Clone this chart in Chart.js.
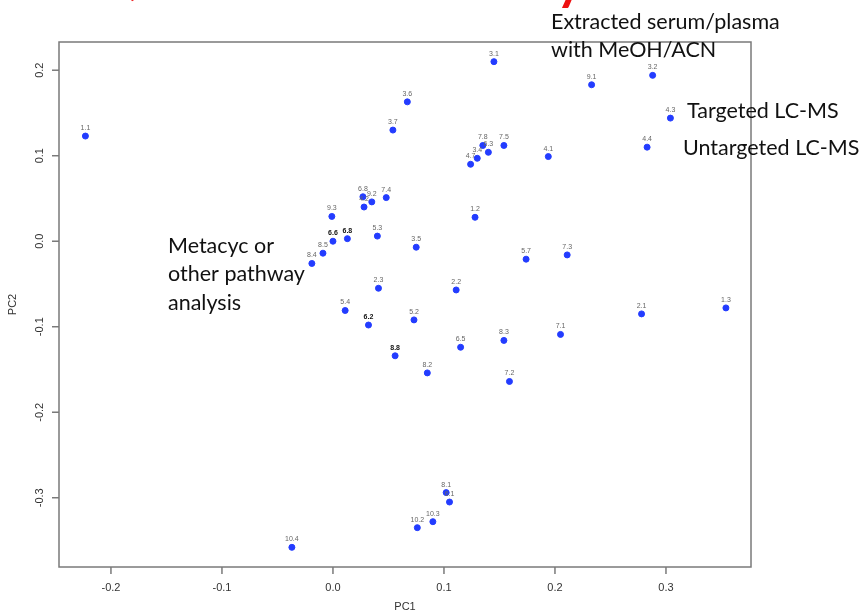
<!DOCTYPE html>
<html>
<head>
<meta charset="utf-8">
<script src="https://cdn.jsdelivr.net/npm/chart.js@4/dist/chart.umd.min.js"></script>
<style>
  html, body { margin: 0; padding: 0; background: #fff; }
  #wrap { width: 862px; height: 616px; position: relative; }
</style>
</head>
<body>
<div id="wrap"><canvas id="pcaChart"></canvas></div>
<script>
// --- data ---
const sampleLabels = ['1.1','1.2','1.3','2.1','2.2','2.3','3.1','3.2','3.4','3.5','3.6','3.7',
  '4.1','4.2','4.3','4.4','4.7','5.2','5.3','5.4','5.7','6.1','6.2','6.3','6.5','6.6','6.8','6.8',
  '7.1','7.2','7.3','7.4','7.5','7.8','8.1','8.2','8.3','8.4','8.5','8.8','9.1','9.2','9.3',
  '10.2','10.3','10.4'];
const pc1 = [-0.223, 0.128, 0.354, 0.278, 0.111, 0.041, 0.145, 0.288, 0.130, 0.075, 0.067, 0.054,
  0.194, 0.028, 0.304, 0.283, 0.124, 0.073, 0.040, 0.011, 0.174, 0.105, 0.032, 0.140, 0.115, 0.000, 0.013, 0.027,
  0.205, 0.159, 0.211, 0.048, 0.154, 0.135, 0.102, 0.085, 0.154, -0.019, -0.009, 0.056, 0.233, 0.035, -0.001,
  0.076, 0.090, -0.037];
const pc2 = [0.123, 0.028, -0.078, -0.085, -0.057, -0.055, 0.210, 0.194, 0.097, -0.007, 0.163, 0.130,
  0.099, 0.040, 0.144, 0.110, 0.090, -0.092, 0.006, -0.081, -0.021, -0.305, -0.098, 0.104, -0.124, 0.000, 0.003, 0.052,
  -0.109, -0.164, -0.016, 0.051, 0.112, 0.112, -0.294, -0.154, -0.116, -0.026, -0.014, -0.134, 0.183, 0.046, 0.029,
  -0.335, -0.328, -0.358];
// labels that are printed on top of each other in the original (look bold)
const overprinted = ['6.2','6.6','8.8'];
const overprintedIdx = [26];

const xTicks = [-0.2, -0.1, 0.0, 0.1, 0.2, 0.3];
const yTicks = [-0.3, -0.2, -0.1, 0.0, 0.1, 0.2];

const notes = [
  { lines: ['Extracted serum/plasma', 'with MeOH/ACN'], x: 551, y: 22 },
  { lines: ['Targeted LC-MS'], x: 687, y: 111 },
  { lines: ['Untargeted LC-MS'], x: 683, y: 148 },
  { lines: ['Metacyc or', 'other pathway', 'analysis'], x: 168, y: 246 }
];

const points = pc1.map((v, i) => ({ x: v, y: pc2[i] }));

const rAxesPlugin = {
  id: 'rAxes',
  afterDatasetsDraw(chart) {
    const ctx = chart.ctx;
    const meta = chart.getDatasetMeta(0);
    ctx.save();
    ctx.textAlign = 'center';
    ctx.textBaseline = 'alphabetic';
    meta.data.forEach((pt, i) => {
      const lbl = sampleLabels[i];
      const heavy = overprinted.includes(lbl) || overprintedIdx.includes(i);
      ctx.font = (heavy ? 'bold ' : '') + '7px "Liberation Sans", Arial, sans-serif';
      ctx.fillStyle = heavy ? '#111' : '#666';
      ctx.fillText(lbl, pt.x, pt.y - 6);
    });
    ctx.restore();
  },
  afterDraw(chart) {
    const ctx = chart.ctx;
    const a = chart.chartArea;
    const xs = chart.scales.x, ys = chart.scales.y;
    ctx.save();
    // box
    ctx.strokeStyle = '#7a7a7a';
    ctx.lineWidth = 1.5;
    ctx.strokeRect(a.left, a.top, a.right - a.left, a.bottom - a.top);

    // x ticks
    ctx.font = '11px "Liberation Sans", Arial, sans-serif';
    ctx.fillStyle = '#333';
    ctx.textAlign = 'center';
    ctx.textBaseline = 'middle';
    xTicks.forEach(t => {
      const px = xs.getPixelForValue(t);
      ctx.beginPath();
      ctx.moveTo(px, a.bottom);
      ctx.lineTo(px, a.bottom + 7);
      ctx.stroke();
      ctx.fillText(t.toFixed(1), px, a.bottom + 21);
    });
    // y ticks (rotated, R style)
    yTicks.forEach(t => {
      const py = ys.getPixelForValue(t);
      ctx.beginPath();
      ctx.moveTo(a.left, py);
      ctx.lineTo(a.left - 7, py);
      ctx.stroke();
      ctx.save();
      ctx.translate(a.left - 19, py);
      ctx.rotate(-Math.PI / 2);
      ctx.fillText(t.toFixed(1), 0, 0);
      ctx.restore();
    });
    // axis titles
    ctx.font = '11px "Liberation Sans", Arial, sans-serif';
    ctx.fillText('PC1', (a.left + a.right) / 2, 607);
    ctx.save();
    ctx.translate(13, (a.top + a.bottom) / 2);
    ctx.rotate(-Math.PI / 2);
    ctx.fillText('PC2', 0, 0);
    ctx.restore();

    // overlaid slide annotations
    ctx.font = '21.5px Lato, "Open Sans", sans-serif';
    ctx.fillStyle = '#111';
    ctx.textAlign = 'left';
    notes.forEach(n => {
      n.lines.forEach((ln, k) => ctx.fillText(ln, n.x, n.y + k * 28.5));
    });

    // clipped red slide title at the very top
    ctx.fillStyle = '#ee1111';
    ctx.textBaseline = 'alphabetic';
    ctx.font = 'bold 46px Lato, sans-serif';
    ctx.fillText('(', 124, -6);
    ctx.font = 'bold 52px Lato, sans-serif';
    ctx.fillText('y', 556, -1);
    ctx.restore();
  }
};

new Chart(document.getElementById('pcaChart'), {
  type: 'scatter',
  data: {
    datasets: [{
      label: 'samples',
      data: points,
      backgroundColor: 'rgb(35,60,255)',
      borderColor: 'rgb(35,60,255)',
      pointRadius: 3,
      pointHoverRadius: 3
    }]
  },
  options: {
    responsive: true, maintainAspectRatio: false,
    animation: false,
    layout: { padding: { left: 59, top: 42, right: 111, bottom: 49 } },
    scales: {
      x: { type: 'linear', min: -0.2468, max: 0.3766, display: false },
      y: { type: 'linear', min: -0.381, max: 0.233, display: false }
    },
    plugins: { legend: { display: false }, tooltip: { enabled: false } }
  },
  plugins: [rAxesPlugin]
});
</script>
</body>
</html>
